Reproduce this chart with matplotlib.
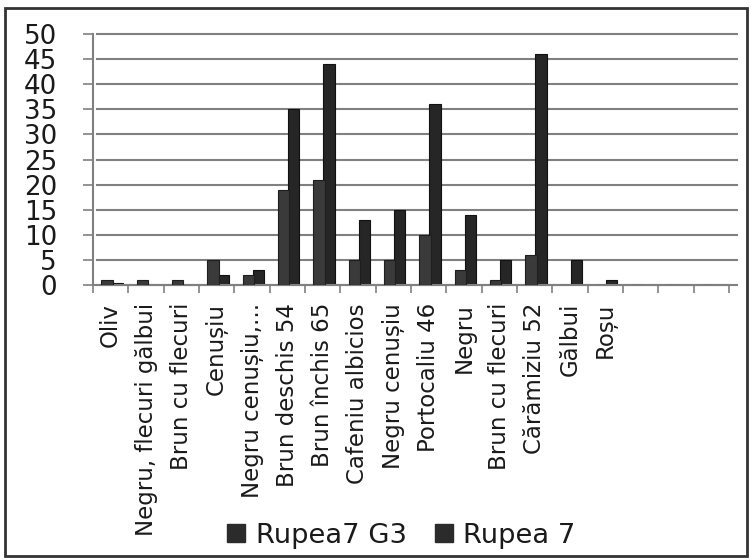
import numpy as np
import matplotlib.pyplot as plt
from matplotlib.lines import Line2D
from matplotlib.patches import Rectangle

# Categories (last three slots are empty in the original chart)
categories = ['Oliv', 'Negru, flecuri gălbui', 'Brun cu flecuri', 'Cenușiu',
              'Negru cenușiu,...', 'Brun deschis 54', 'Brun închis 65',
              'Cafeniu albicios', 'Negru cenușiu', 'Portocaliu 46', 'Negru',
              'Brun cu flecuri', 'Cărămiziu 52', 'Gălbui', 'Roșu', '', '', '']

rupea7_g3 = [1, 1, 1, 5, 2, 19, 21, 5, 5, 10, 3, 1, 6, 0, 0, 0, 0, 0]
rupea7 = [0.3, 0, 0, 2, 3, 35, 44, 13, 15, 36, 14, 5, 46, 5, 1, 0, 0, 0]

y_ticks = [0, 5, 10, 15, 20, 25, 30, 35, 40, 45, 50]

plt.rcParams['font.family'] = 'DejaVu Sans'

W, H = 751, 559
fig = plt.figure(figsize=(W / 100, H / 100), dpi=100)

# axes placed in pixel terms of the reference
left, right, top, bottom = 93, 729, 34, 285
ax = fig.add_axes([left / W, 1 - bottom / H, (right - left) / W, (bottom - top) / H])

x = np.arange(len(categories))
ax.bar(x - 0.1, rupea7_g3, width=0.32, color='#3a3a3a', edgecolor='#1e1e1e',
       linewidth=0.8, zorder=3, label='Rupea7 G3')
ax.bar(x + 0.18, rupea7, width=0.32, color='#262626', edgecolor='#111111',
       linewidth=0.8, zorder=2, label='Rupea 7')

ax.set_xlim(-0.5, len(categories) - 0.5)
ax.set_ylim(0, 50)

# horizontal gridlines, extended a bit to the right like the 3D back wall
for v in y_ticks:
    ax.add_line(Line2D([0.006, 1.013], [v, v], transform=ax.get_yaxis_transform(),
                       color='#808080', lw=1.5, zorder=1, clip_on=False))

ax.set_yticks(y_ticks)
ax.set_yticklabels([str(v) for v in y_ticks], fontsize=18.8, color='#1a1a1a')
ax.tick_params(axis='y', direction='out', length=7, width=1.2, color='#808080',
               pad=19)

ax.set_xticks(x)
ax.set_xticklabels(categories, rotation=90, fontsize=16.5, va='top',
                   color='#1a1a1a')
ax.set_xticks(np.arange(-0.5, len(categories)), minor=True)
ax.tick_params(axis='x', which='major', length=0, pad=13)
ax.tick_params(axis='x', which='minor', direction='out', length=6, width=1.2,
               color='#808080')

for s in ['top', 'right']:
    ax.spines[s].set_visible(False)
ax.spines['left'].set_color('#808080')
ax.spines['left'].set_linewidth(1.5)
ax.spines['bottom'].set_color('#808080')
ax.spines['bottom'].set_linewidth(1.5)

# legend at the bottom
handles = [Line2D([], [], marker='s', linestyle='none', markersize=13.5,
                  color='#2b2b2b'),
           Line2D([], [], marker='s', linestyle='none', markersize=13.5,
                  color='#2b2b2b')]
fig.legend(handles, ['Rupea7 G3', 'Rupea 7'], loc='center',
           bbox_to_anchor=(401 / W, 1 - 536 / H), ncol=2, frameon=False,
           fontsize=19.7, handlelength=0.7, handletextpad=0.35,
           columnspacing=1.0, labelcolor='#1a1a1a')

# outer chart border
fig.add_artist(Rectangle((5 / W, 3 / H), (W - 9) / W, (H - 11) / H,
                         transform=fig.transFigure, fill=False,
                         edgecolor='#333333', lw=2))

fig.savefig('out.png', dpi=100)
